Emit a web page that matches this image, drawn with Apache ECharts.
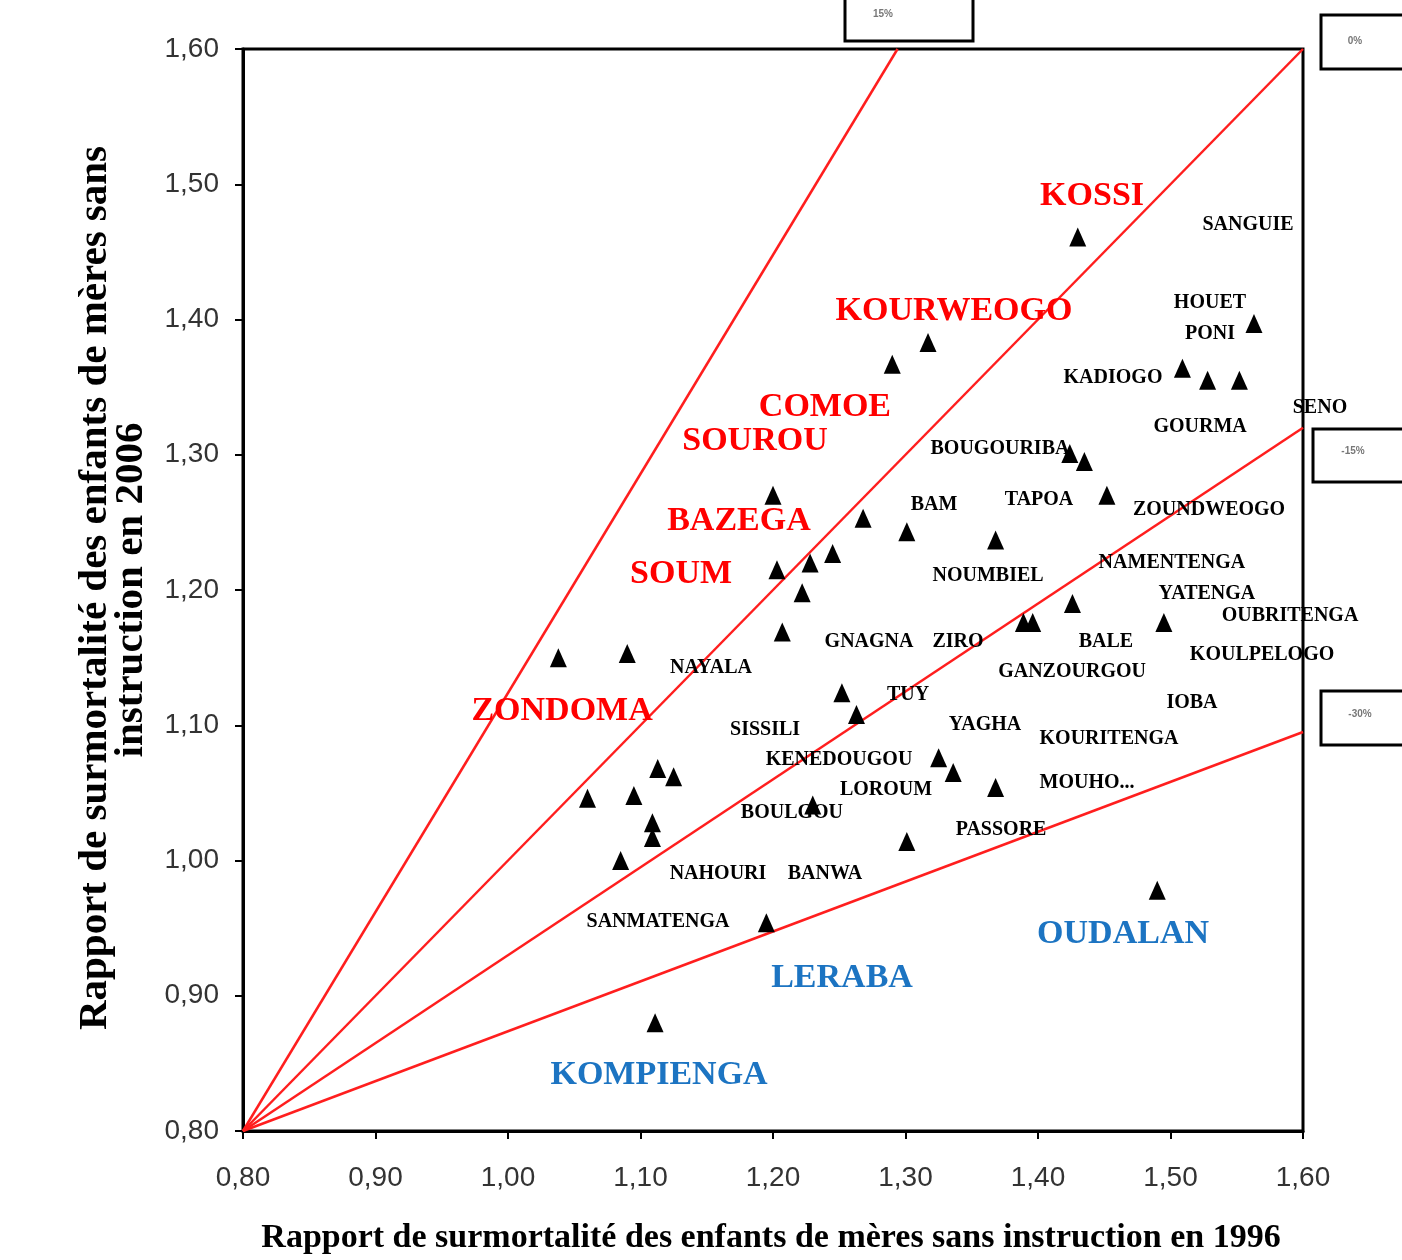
<!DOCTYPE html>
<html><head><meta charset="utf-8">
<script src="https://cdn.jsdelivr.net/npm/echarts@6/dist/echarts.min.js"></script>
<style>html,body{margin:0;padding:0;background:#fff}#c{width:1402px;height:1260px}</style>
</head><body><div id="c"></div>
<script>
// Point values (ratio 1996, ratio 2006)
const ratio1996 = [1.430,1.563,1.509,1.528,1.552,1.317,1.290,1.424,1.435,1.452,1.301,1.368,1.426,1.389,1.396,1.495,1.200,1.268,1.245,1.228,1.203,1.222,1.207,1.038,1.090,1.252,1.263,1.113,1.125,1.060,1.095,1.109,1.109,1.085,1.230,1.301,1.195,1.325,1.336,1.368,1.490,1.111];
const ratio2006 = [1.461,1.397,1.364,1.355,1.355,1.383,1.367,1.301,1.295,1.270,1.243,1.237,1.190,1.176,1.176,1.176,1.270,1.253,1.227,1.220,1.215,1.198,1.169,1.150,1.153,1.124,1.108,1.068,1.062,1.046,1.048,1.028,1.017,1.000,1.041,1.014,0.954,1.076,1.065,1.054,0.978,0.880];

// Reference lines from origin (0.80, 0.80)
const refOrigin = [0.80, 0.80];
const refEndX = [1.294, 1.60, 1.60, 1.60];
const refEndY = [1.60, 1.60, 1.320, 1.095];
const refBoxText = ['15%', '0%', '-15%', '-30%'];

// Axis ticks
const axisMin = 0.80, axisMax = 1.60, axisStep = 0.10;

// Province labels (anchor in data units)
const redNames = ['KOSSI','KOURWEOGO','COMOE','SOUROU','BAZEGA','SOUM','ZONDOMA'];
const redX = [1.4408,1.3366,1.2392,1.1864,1.1743,1.1306,1.0408];
const redY = [1.4913,1.4063,1.3353,1.3102,1.2510,1.2118,1.1105];

const blueNames = ['OUDALAN','LERABA','KOMPIENGA'];
const blueX = [1.4642,1.2521,1.1140];
const blueY = [0.9457,0.9131,0.8414];

const blackNames = ['SANGUIE','HOUET','PONI','KADIOGO','SENO','GOURMA','BOUGOURIBA','BAM','TAPOA','ZOUNDWEOGO','NAMENTENGA','NOUMBIEL','YATENGA','OUBRITENGA','GNAGNA','ZIRO','BALE','KOULPELOGO','NAYALA','GANZOURGOU','TUY','IOBA','YAGHA','SISSILI','KOURITENGA','KENEDOUGOU','MOUHO...','LOROUM','BOULGOU','PASSORE','NAHOURI','BANWA','SANMATENGA'];
const blackX = [1.5585,1.5298,1.5298,1.4566,1.6128,1.5223,1.3713,1.3215,1.4008,1.5291,1.5011,1.3623,1.5275,1.5902,1.2725,1.3396,1.4513,1.5691,1.1532,1.4257,1.3019,1.5162,1.3600,1.1940,1.4536,1.2498,1.4370,1.2853,1.2143,1.3721,1.1585,1.2392,1.1132];
const blackY = [1.4699,1.4122,1.3893,1.3568,1.3346,1.3205,1.3043,1.2628,1.2665,1.2591,1.2200,1.2104,1.1970,1.1808,1.1616,1.1616,1.1616,1.1519,1.1423,1.1394,1.1224,1.1164,1.1002,1.0965,1.0898,1.0743,1.0573,1.0521,1.0351,1.0226,0.9900,0.9900,0.9545];

const xTitle = 'Rapport de surmortalité des enfants de mères sans instruction en 1996';
const yTitle1 = 'Rapport de surmortalité des enfants de mères sans';
const yTitle2 = 'instruction en 2006';

const chart = echarts.init(document.getElementById('c'));
const SERIF = '"Liberation Serif","Times New Roman",serif';
const fmt = v => v.toFixed(2).replace('.', ',');

function labelSeries(names, xs, ys, color, size) {
  return {
    type: 'scatter', clip: false, silent: true, z: 5,
    symbol: 'circle', symbolSize: 1, itemStyle: {color: 'rgba(0,0,0,0)', opacity: 1},
    label: {show: true, position: 'inside', formatter: p => p.name,
      color: color, fontFamily: SERIF, fontWeight: 'bold', fontSize: size},
    emphasis: {disabled: true},
    data: names.map((n, i) => ({name: n, value: [xs[i], ys[i]]}))
  };
}

const lineSeries = refEndX.map((ex, i) => ({
  type: 'line', silent: true, symbol: 'none', z: 3,
  lineStyle: {color: '#FF1E1E', width: 2.5},
  data: [refOrigin, [ex, refEndY[i]]]
}));

const boxes = [
  {x: 845, y: -10, w: 128, h: 51, tx: 883, ty: 14},
  {x: 1321, y: 15, w: 100, h: 54, tx: 1355, ty: 41},
  {x: 1313, y: 429, w: 100, h: 53, tx: 1353, ty: 451},
  {x: 1321, y: 691, w: 100, h: 54, tx: 1360, ty: 714}
];
const graphics = [];
boxes.forEach((b, i) => {
  graphics.push({type: 'rect', shape: {x: b.x, y: b.y, width: b.w, height: b.h},
    style: {fill: '#fff', stroke: '#000', lineWidth: 3}, z: 10});
  graphics.push({type: 'text', x: b.tx, y: b.ty, z: 11,
    style: {text: refBoxText[i], fill: '#777', font: 'bold 10px "Liberation Sans",Arial',
      textAlign: 'center', textVerticalAlign: 'middle'}});
});
graphics.push({type: 'text', x: 771, y: 1238, z: 11,
  style: {text: xTitle, fill: '#000', font: 'bold 34px ' + SERIF, textAlign: 'center', textVerticalAlign: 'middle'}});
graphics.push({type: 'text', x: 95, y: 588, rotation: Math.PI / 2, z: 11,
  style: {text: yTitle1, fill: '#000', font: 'bold 41px ' + SERIF, textAlign: 'center', textVerticalAlign: 'middle'}});
graphics.push({type: 'text', x: 131, y: 590, rotation: Math.PI / 2, z: 11,
  style: {text: yTitle2, fill: '#000', font: 'bold 41px ' + SERIF, textAlign: 'center', textVerticalAlign: 'middle'}});

const axisCommon = {
  type: 'value', min: axisMin, max: axisMax, interval: axisStep,
  splitLine: {show: false},
  axisLine: {show: true, lineStyle: {color: '#000', width: 3}},
  axisTick: {show: true, inside: false, length: 8, lineStyle: {color: '#000', width: 2}},
  axisLabel: {formatter: fmt, color: '#333', fontSize: 28, fontFamily: '"Liberation Sans",Arial'}
};

chart.setOption({
  animation: false,
  backgroundColor: '#fff',
  grid: {left: 243, right: 99, top: 49, bottom: 129, show: true, borderColor: '#000', borderWidth: 3},
  xAxis: Object.assign({}, axisCommon, {axisLabel: Object.assign({}, axisCommon.axisLabel, {margin: 33})}),
  yAxis: Object.assign({}, axisCommon, {axisLabel: Object.assign({}, axisCommon.axisLabel, {margin: 24})}),
  graphic: graphics,
  series: [
    ...lineSeries,
    {type: 'scatter', symbol: 'triangle', symbolSize: [17, 19], z: 4,
      itemStyle: {color: '#000', opacity: 1},
      data: ratio1996.map((x, i) => [x, ratio2006[i]])},
    labelSeries(redNames, redX, redY, '#FF0000', 34),
    labelSeries(blueNames, blueX, blueY, '#1C74C2', 34),
    labelSeries(blackNames, blackX, blackY, '#000', 20)
  ]
});
</script></body></html>
